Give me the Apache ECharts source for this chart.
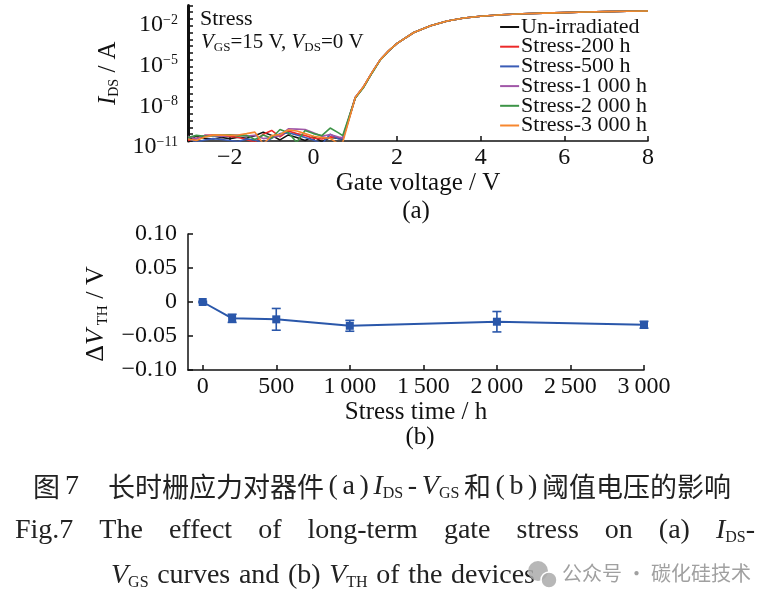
<!DOCTYPE html>
<html><head><meta charset="utf-8">
<script src="https://cdn.jsdelivr.net/npm/echarts@6/dist/echarts.min.js"></script>
<style>html,body{margin:0;padding:0;background:#fff}#c{width:774px;height:603px}</style>
</head><body><div id="c"></div>
<script>
// ---------- Panel (a) data ----------
const voltage = [-3,-2.8,-2.6,-2.4,-2.2,-2,-1.8,-1.6,-1.4,-1.2,-1,-0.8,-0.6,-0.4,-0.2,0,0.2,0.4,0.6,0.7,
  1.0,1.2,1.4,1.6,1.8,2.0,2.4,2.8,3.2,3.6,4.0,4.5,5,5.5,6,6.5,7,7.5,8];
const iUnirradiated = [1.3e-11,2.2e-11,1.6e-11,1.4e-11,1.8e-11,1.5e-11,1.9e-11,1.6e-11,2.4e-11,4.5e-11,2.6e-11,1.2e-11,2.8e-11,1.8e-11,1.1e-11,2.2e-11,9e-12,1.8e-11,1.6e-11,1.3e-11,
  1.5e-8,1.0e-7,1.1e-6,1.0e-5,4.5e-5,1.6e-4,1.0e-3,3.2e-3,7.1e-3,1.17e-2,1.58e-2,2.04e-2,2.4e-2,2.7e-2,2.95e-2,3.24e-2,3.47e-2,3.72e-2,3.89e-2];
const iStress200 = [1.1e-11,1.5e-11,2.6e-11,2.8e-11,2.5e-11,2.2e-11,1.9e-11,1.3e-11,8e-12,3.2e-11,6e-11,2e-11,5.5e-11,3.5e-11,2.5e-11,1.6e-11,1.4e-11,2e-11,1.8e-11,1.5e-11,
  1.6e-8,1.0e-7,1.1e-6,1.0e-5,4.5e-5,1.6e-4,1.0e-3,3.2e-3,7.1e-3,1.17e-2,1.58e-2,2.04e-2,2.4e-2,2.7e-2,2.95e-2,3.24e-2,3.47e-2,3.72e-2,3.89e-2];
const iStress500 = [1.6e-11,8e-12,1.2e-11,1.5e-11,1.3e-11,1.1e-11,9e-12,1.4e-11,1.2e-11,7e-12,1.6e-11,3.5e-11,4e-11,2.8e-11,1.8e-11,1.2e-11,6e-12,3.2e-11,1.4e-11,1.4e-11,
  1.6e-8,1.0e-7,1.1e-6,1.0e-5,4.5e-5,1.6e-4,1.0e-3,3.2e-3,7.1e-3,1.17e-2,1.58e-2,2.04e-2,2.4e-2,2.7e-2,2.95e-2,3.24e-2,3.47e-2,3.72e-2,3.89e-2];
const iStress1000 = [2.2e-11,1.4e-11,2.6e-11,2.4e-11,2.2e-11,2.6e-11,2.8e-11,2.3e-11,2.6e-11,1.5e-11,1.8e-11,2.5e-11,8e-11,7.5e-11,7e-11,4e-11,2.2e-11,3e-11,2e-11,1.7e-11,
  1.7e-8,1.0e-7,1.1e-6,1.0e-5,4.5e-5,1.6e-4,1.0e-3,3.2e-3,7.1e-3,1.17e-2,1.58e-2,2.04e-2,2.4e-2,2.7e-2,2.95e-2,3.24e-2,3.47e-2,3.72e-2,3.95e-2];
const iStress2000 = [1.8e-11,2.6e-11,2.2e-11,2.5e-11,2.7e-11,2.9e-11,2.4e-11,2.6e-11,1.3e-11,2.8e-11,1.6e-11,7e-11,4e-11,8e-12,6e-11,3.5e-11,2.5e-11,9e-11,4e-11,2.5e-11,
  1.5e-8,9e-8,1.0e-6,9.5e-6,4.4e-5,1.6e-4,1.0e-3,3.2e-3,7.1e-3,1.17e-2,1.58e-2,2.04e-2,2.4e-2,2.7e-2,2.95e-2,3.24e-2,3.47e-2,3.72e-2,3.89e-2];
const iStress3000 = [1.4e-11,1.1e-11,2e-11,2.7e-11,2.8e-11,2.6e-11,2.8e-11,3.5e-11,4.5e-11,6e-12,2.5e-11,3e-11,6.5e-11,5.5e-11,3.5e-11,2.2e-11,1.8e-11,1.6e-11,6e-12,8e-12,
  1.6e-8,1.05e-7,1.15e-6,1.0e-5,4.6e-5,1.6e-4,1.0e-3,3.2e-3,7.1e-3,1.17e-2,1.58e-2,2.04e-2,2.4e-2,2.7e-2,2.95e-2,3.24e-2,3.47e-2,3.72e-2,3.89e-2];
const seriesNamesA = ['Un-irradiated','Stress-200 h','Stress-500 h','Stress-1 000 h','Stress-2 000 h','Stress-3 000 h'];
const seriesDataA = [iUnirradiated,iStress200,iStress500,iStress1000,iStress2000,iStress3000];
const colorsA = ['#111111','#ec2a2a','#3a5cb6','#a157a8','#3d9447','#f7872e'];
const aXTicks = [-2,0,2,4,6,8];
const aYLabelExp = [-11,-8,-5,-2];

// ---------- Panel (b) data ----------
const stressTime = [0,200,500,1000,2000,3000];
const deltaVth = [0,-0.024,-0.0255,-0.035,-0.029,-0.0335];
const deltaVthErr = [0.001,0.006,0.016,0.008,0.015,0.005];
const bXTicks = [0,500,1000,1500,2000,2500,3000];

const SERIF = "'Liberation Serif','Times New Roman',serif";
const CJKF = "'Noto Sans CJK SC'";
const minus = v => (v < 0 ? '\u2212' : '') + Math.abs(v);
const thou = v => { const s = String(Math.abs(v)); return s.length > 3 ? s.slice(0, s.length-3) + '\u2009' + s.slice(-3) : s; };

const subRich = (fs) => ({
  n: {fontFamily: SERIF, fontSize: fs, color: '#111', lineHeight: fs + 2},
  i: {fontFamily: SERIF, fontSize: fs, color: '#111', fontStyle: 'italic', lineHeight: fs + 2},
  sub: {fontFamily: SERIF, fontSize: Math.round(fs * 0.58), color: '#111', verticalAlign: 'bottom', lineHeight: Math.round(fs * 0.58) + 2}
});

// ---------- caption layout helpers (text measurement for justified lines) ----------
const ctx = document.createElement('canvas').getContext('2d');
function partFont(style, size, cjkSize) {
  if (style === 'c') return cjkSize + 'px ' + CJKF;
  if (style === 'i') return 'italic ' + size + 'px ' + SERIF;
  if (style === 'sub') return Math.round(size * 0.56) + 'px ' + SERIF;
  return size + 'px ' + SERIF;
}
function tokWidth(tok, size, cjkSize) {
  let w = 0;
  tok.forEach(([t, s]) => { ctx.font = partFont(s, size, cjkSize); w += ctx.measureText(t).width; });
  return w;
}
function capRich(size, cjkSize, color) {
  return {
    c: {fontFamily: CJKF, fontSize: cjkSize, fill: color, lineHeight: size + 2},
    n: {fontFamily: SERIF, fontSize: size, fill: color, lineHeight: size + 2},
    i: {fontFamily: SERIF, fontSize: size, fontStyle: 'italic', fill: color, lineHeight: size + 2},
    sub: {fontFamily: SERIF, fontSize: Math.round(size * 0.56), fill: color, verticalAlign: 'bottom', lineHeight: Math.round(size * 0.56) + 2}
  };
}
// place tokens with equal gaps between x0 and x1 (edgeGaps: also put a gap before first and after last)
function justify(tokens, x0, x1, y, size, cjkSize, color, edgeGaps) {
  const ws = tokens.map(t => tokWidth(t, size, cjkSize));
  const total = ws.reduce((a, b) => a + b, 0);
  const nGaps = edgeGaps ? tokens.length + 1 : tokens.length - 1;
  const gap = nGaps > 0 ? (x1 - x0 - total) / nGaps : 0;
  let x = x0 + (edgeGaps ? gap : 0);
  const rich = capRich(size, cjkSize, color);
  return tokens.map((tok, k) => {
    const el = {type: 'text', x, y, style: {text: tok.map(([t, s]) => '{' + s + '|' + t + '}').join(''), rich, verticalAlign: 'middle'}};
    x += ws[k] + gap;
    return el;
  });
}
const CAP = 28, CJK_SIZE = 27;
const cnLeft = '长时栅应力对器件', cnRight = '阈值电压的影响';
const cnMid = [[['(','n']],[['a','n']],[[')','n']],[['I','i'],['DS','sub']],[['-','n']],[['V','i'],['GS','sub']],[['和','c']],[['(','n']],[['b','n']],[[')','n']]];
const enLine2 = [[['Fig.7','n']],[['The','n']],[['effect','n']],[['of','n']],[['long\u2010term','n']],[['gate','n']],[['stress','n']],[['on','n']],[['(a)','n']],[['I','i'],['DS','sub'],['\u2010','n']]];
const enLine3 = [[['V','i'],['GS','sub']],[['curves','n']],[['and','n']],[['(b)','n']],[['V','i'],['TH','sub']],[['of','n']],[['the','n']],[['devices','n']]];
ctx.font = CJK_SIZE + 'px ' + CJKF;
const cnLeftW = ctx.measureText(cnLeft).width, cnRightW = ctx.measureText(cnRight).width;

const chart = echarts.init(document.getElementById('c'), null, {renderer: 'canvas'});

const seriesA = seriesNamesA.map((name, k) => ({
  name, type: 'line', xAxisIndex: 0, yAxisIndex: 0,
  data: voltage.map((v, i) => [v, seriesDataA[k][i]]),
  showSymbol: false, symbol: 'none', clip: true,
  lineStyle: {width: 1.6, color: colorsA[k]}, itemStyle: {color: colorsA[k]},
  z: 2 + k
}));

const option = {
  animation: false,
  backgroundColor: '#fff',
  grid: [
    {left: 188, top: 5.4, width: 460, height: 135.6},
    {left: 188, top: 234, width: 456, height: 136}
  ],
  legend: {
    orient: 'vertical', right: 127, top: 16, itemGap: -2.3, padding: 0,
    icon: 'rect', itemWidth: 19, itemHeight: 2,
    data: seriesNamesA,
    textStyle: {fontFamily: SERIF, fontSize: 22, color: '#111', lineHeight: 22, padding: [0,0,0,-3]},
    selectedMode: false
  },
  xAxis: [
    {
      gridIndex: 0, type: 'value', min: -3, max: 8,
      axisLine: {onZero: false, lineStyle: {color: '#111', width: 1.5}},
      axisTick: {inside: true, length: 5, customValues: aXTicks, lineStyle: {color: '#111', width: 1.5}},
      axisLabel: {customValues: aXTicks, formatter: minus, fontFamily: SERIF, fontSize: 24, color: '#111', margin: 5},
      splitLine: {show: false},
      name: 'Gate voltage / V', nameLocation: 'middle', nameGap: 30,
      nameTextStyle: {fontFamily: SERIF, fontSize: 25, color: '#111'}
    },
    {
      gridIndex: 1, type: 'value', min: -100, max: 3000,
      axisLine: {onZero: false, lineStyle: {color: '#111', width: 1.5}},
      axisTick: {inside: true, length: 5, customValues: bXTicks, lineStyle: {color: '#111', width: 1.5}},
      axisLabel: {customValues: bXTicks, formatter: thou, fontFamily: SERIF, fontSize: 24, color: '#111', margin: 5},
      splitLine: {show: false},
      name: 'Stress time / h', nameLocation: 'middle', nameGap: 28,
      nameTextStyle: {fontFamily: SERIF, fontSize: 25, color: '#111'}
    }
  ],
  yAxis: [
    {
      gridIndex: 0, type: 'log', logBase: 10, min: 1e-11, max: 1e-1, interval: 0.5,
      axisLine: {onZero: false, lineStyle: {color: '#111', width: 3}},
      axisTick: {inside: true, length: 5, lineStyle: {color: '#111', width: 1.5}},
      axisLabel: {
        fontFamily: SERIF, margin: 10, color: '#111', padding: [12, 0, 0, 0],
        formatter: v => {
          const e = Math.log10(v), r = Math.round(e);
          if (Math.abs(e - r) < 1e-6 && aYLabelExp.includes(r)) return '{b|10}{s|\u2212' + Math.abs(r) + '}';
          return '';
        },
        rich: {
          b: {fontFamily: SERIF, fontSize: 24, color: '#111', lineHeight: 24, verticalAlign: 'bottom'},
          s: {fontFamily: SERIF, fontSize: 14, color: '#111', lineHeight: 14, verticalAlign: 'top'}
        }
      },
      splitLine: {show: false},
      name: '{i|I}{sub|DS}{n| / A}', nameLocation: 'middle', nameGap: 60, nameRotate: 90,
      nameTextStyle: {rich: subRich(25)}
    },
    {
      gridIndex: 1, type: 'value', min: -0.1, max: 0.1, interval: 0.05,
      axisLine: {onZero: false, lineStyle: {color: '#111', width: 1.5}},
      axisTick: {inside: true, length: 5, lineStyle: {color: '#111', width: 1.5}},
      axisLabel: {
        fontFamily: SERIF, fontSize: 24, color: '#111', margin: 11,
        formatter: v => Math.abs(v) < 1e-9 ? '0' : (v < 0 ? '\u2212' : '') + Math.abs(v).toFixed(2)
      },
      splitLine: {show: false},
      name: '{n|\u0394}{i|V}{sub| TH}{n| / V}', nameLocation: 'middle', nameGap: 75, nameRotate: 90,
      nameTextStyle: {rich: subRich(26), padding: [0, 24, 0, 0]}
    }
  ],
  series: seriesA.concat([
    {
      name: 'dvth', type: 'line', xAxisIndex: 1, yAxisIndex: 1,
      data: stressTime.map((t, i) => [t, deltaVth[i]]),
      symbol: 'rect', symbolSize: 8,
      lineStyle: {width: 2, color: '#2a57aa'}, itemStyle: {color: '#2a57aa'}, z: 5
    },
    {
      name: 'err', type: 'custom', xAxisIndex: 1, yAxisIndex: 1,
      data: stressTime.map((t, i) => [t, deltaVth[i] - deltaVthErr[i], deltaVth[i] + deltaVthErr[i]]),
      renderItem: (params, api) => {
        const lo = api.coord([api.value(0), api.value(1)]);
        const hi = api.coord([api.value(0), api.value(2)]);
        const w = 4.5;
        const st = {stroke: '#2a57aa', lineWidth: 1.6};
        return {type: 'group', children: [
          {type: 'line', shape: {x1: lo[0], y1: lo[1], x2: hi[0], y2: hi[1]}, style: st},
          {type: 'line', shape: {x1: lo[0]-w, y1: lo[1], x2: lo[0]+w, y2: lo[1]}, style: st},
          {type: 'line', shape: {x1: hi[0]-w, y1: hi[1], x2: hi[0]+w, y2: hi[1]}, style: st}
        ]};
      },
      z: 4
    }
  ]),
  graphic: [
    {type: 'text', left: 200, top: 8, style: {text: 'Stress', font: "22px " + SERIF, fill: '#111'}},
    {type: 'text', left: 201, top: 32, style: {
      text: '{i|V}{sub|GS}{n|=15 V, }{i|V}{sub|DS}{n|=0 V}',
      rich: {
        n: {fontFamily: SERIF, fontSize: 21, fill: '#111', lineHeight: 23},
        i: {fontFamily: SERIF, fontSize: 21, fontStyle: 'italic', fill: '#111', lineHeight: 23},
        sub: {fontFamily: SERIF, fontSize: 13, fill: '#111', verticalAlign: 'bottom', lineHeight: 15}
      }}},
    {type: 'text', x: 416, y: 211, style: {text: '(a)', font: "25px " + SERIF, fill: '#111', align: 'center', verticalAlign: 'middle'}},
    {type: 'text', x: 420, y: 437, style: {text: '(b)', font: "25px " + SERIF, fill: '#111', align: 'center', verticalAlign: 'middle'}},
    // Chinese caption
    {type: 'text', x: 33, y: 487, style: {text: '图', font: CJK_SIZE + "px " + CJKF, fill: '#222', verticalAlign: 'middle'}},
    {type: 'text', x: 65, y: 487, style: {text: '7', font: CAP + "px " + SERIF, fill: '#222', verticalAlign: 'middle'}},
    {type: 'text', x: 108, y: 487, style: {text: cnLeft, font: CJK_SIZE + "px " + CJKF, fill: '#222', verticalAlign: 'middle'}},
    ...justify(cnMid, 108 + cnLeftW, 731 - cnRightW, 487, CAP, CJK_SIZE, '#222', true),
    {type: 'text', x: 731, y: 487, style: {text: cnRight, font: CJK_SIZE + "px " + CJKF, fill: '#222', align: 'right', verticalAlign: 'middle'}},
    ...justify(enLine2, 15, 755, 531, CAP, CJK_SIZE, '#222', false),
    ...justify(enLine3, 111, 535, 576, CAP, CJK_SIZE, '#222', false),
    // watermark
    {type: 'circle', shape: {cx: 538, cy: 571, r: 10}, style: {fill: 'rgba(170,170,170,0.85)'}},
    {type: 'circle', shape: {cx: 549, cy: 580, r: 8}, style: {fill: 'rgba(170,170,170,0.85)', stroke: '#fff', lineWidth: 1.5}},
    {type: 'text', x: 562, y: 573, style: {text: '公众号 · 碳化硅技术', font: "20px " + CJKF, fill: 'rgba(150,150,150,0.9)', verticalAlign: 'middle'}}
  ]
};
chart.setOption(option);
</script>
</body></html>
